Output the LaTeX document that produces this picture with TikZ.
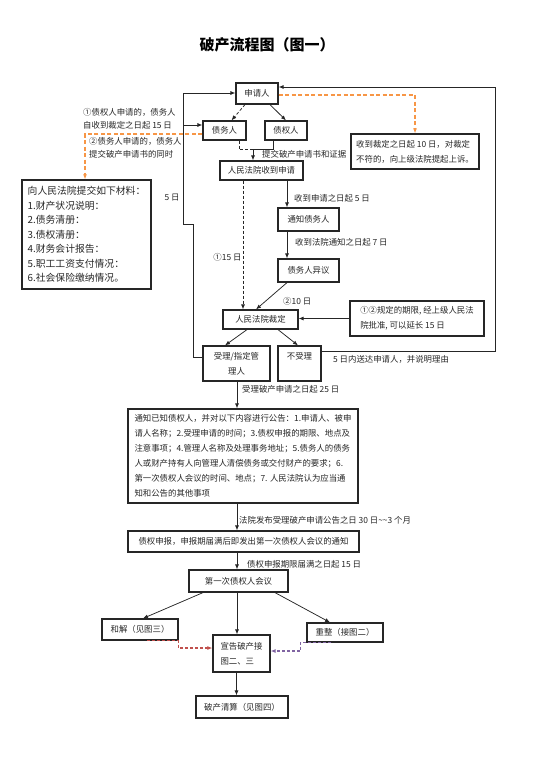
\documentclass[tikz,border=0pt]{standalone}
\usepackage{fontspec}
\setmainfont{Noto Sans CJK SC}
\usetikzlibrary{arrows.meta,calc}
\definecolor{oran}{RGB}{247,150,70}
\definecolor{redd}{RGB}{192,80,77}
\definecolor{purp}{RGB}{128,100,162}
\definecolor{ink}{RGB}{38,38,38}
\begin{document}
\begin{tikzpicture}[x=1pt,y=-1pt,
  box/.style={draw=ink,line width=1.2pt,inner sep=0pt,font=\fontsize{8.4}{15}\selectfont,text=ink},
  lbl/.style={font=\fontsize{8.4}{15}\selectfont,text=ink,inner sep=0pt},
  tip/.style={-{Latex[length=5pt,width=4pt]}},
  arr/.style={draw=ink,line width=0.75pt,tip},
  ln/.style={draw=ink,line width=0.75pt},
  dsh/.style={dash pattern=on 3pt off 2pt},
  odsh/.style={draw=oran,line width=1.3pt,dash pattern=on 4pt off 2.5pt,tip}]
\useasboundingbox (0,0) rectangle (544,768);

% title
\node[font=\fontsize{15}{18}\selectfont\bfseries,text=black] (title) at (267,45) {破产流程图（图一）};

% boxes
\node[box,minimum width=42pt,minimum height=21pt] (sq) at (257,93.5) {申请人};
\node[box,minimum width=43pt,minimum height=19pt] (zwr) at (224.5,130.5) {债务人};
\node[box,minimum width=42pt,minimum height=19pt] (zqr) at (286,130.5) {债权人};
\node[box,minimum width=83pt,minimum height=19pt] (sd) at (261.5,170.5) {人民法院收到申请};
\node[box,minimum width=61pt,minimum height=23pt] (tz) at (308.5,219.5) {通知债务人};
\node[box,minimum width=61pt,minimum height=23pt] (yy) at (308.5,270.5) {债务人异议};
\node[box,minimum width=75pt,minimum height=19pt] (cd) at (260.5,319.5) {人民法院裁定};
\node[box,align=left,minimum width=134pt,minimum height=35pt] (yq) at (417,318.5) {①②规定的期限, 经上级人民法\\院批准, 可以延长 15 日};
\node[box,align=center,minimum width=67pt,minimum height=35pt] (sl) at (236.5,363.5) {受理/指定管\\理人};
\node[box,align=center,minimum width=43pt,minimum height=35pt] (bsl) at (299.5,363.5) {不受理\\\phantom{理}};
\node[box,align=left,minimum width=128pt,minimum height=35pt] (ss) at (415,151.5) {收到裁定之日起 10 日，对裁定\\不符的，向上级法院提起上诉。};
\node[box,font=\fontsize{9.8}{14.5}\selectfont,align=left,minimum width=129pt,minimum height=109pt] (cl) at (86.5,234.5)
  {向人民法院提交如下材料：\\1.财产状况说明：\\2.债务清册：\\3.债权清册：\\4.财务会计报告：\\5.职工工资支付情况：\\6.社会保险缴纳情况。};
\node[box,align=left,minimum width=230pt,minimum height=94pt] (gg) at (243,456)
  {通知已知债权人，并对以下内容进行公告：1.申请人、被申\\
   请人名称；2.受理申请的时间；3.债权申报的期限、地点及\\
   注意事项；4.管理人名称及处理事务地址；5.债务人的债务\\
   人或财产持有人向管理人清偿债务或交付财产的要求；6.\\
   第一次债权人会议的时间、地点；7. 人民法院认为应当通\\
   知和公告的其他事项};
\node[box,minimum width=231pt,minimum height=21pt] (sb) at (243.5,541.5) {债权申报，申报期届满后即发出第一次债权人会议的通知};
\node[box,minimum width=99pt,minimum height=22pt] (dyc) at (238.5,581) {第一次债权人会议};
\node[box,minimum width=76pt,minimum height=21pt] (hj) at (140,629.5) {和解（见图三）};
\node[box,align=left,minimum width=57pt,minimum height=37pt] (xg) at (241.5,653.5) {宣告破产接\\图二、三};
\node[box,minimum width=76pt,minimum height=19pt] (cz) at (345,632.5) {重整（接图二）};
\node[box,minimum width=92pt,minimum height=22pt] (qs) at (242,707) {破产清算（见图四）};

% labels
\node[lbl,anchor=west] (t1) at (83,112) {①债权人申请的，债务人};
\node[lbl,anchor=west] (t2) at (83,125) {自收到裁定之日起 15 日};
\node[lbl,anchor=west] (t3) at (89,141) {②债务人申请的，债务人};
\node[lbl,anchor=west] (t4) at (89,154) {提交破产申请书的同时};
\node[lbl,anchor=west] (t5) at (262,154) {提交破产申请书和证据};
\node[lbl] (t6) at (172,198) {5 日};
\node[lbl,anchor=west] (t7) at (294,198) {收到申请之日起 5 日};
\node[lbl,anchor=west] (t8) at (295,242) {收到法院通知之日起 7 日};
\node[lbl] (t9) at (227.5,257) {①15 日};
\node[lbl,anchor=west] (t10) at (283,301) {②10 日};
\node[lbl,anchor=west] (t11) at (333,359) {5 日内送达申请人，并说明理由};
\node[lbl,anchor=west] (t12) at (242,389) {受理破产申请之日起 25 日};
\node[lbl,anchor=west] (t13) at (239,520) {法院发布受理破产申请公告之日 30 日\textasciitilde\textasciitilde 3 个月};
\node[lbl,anchor=west] (t14) at (247,564) {债权申报期限届满之日起 15 日};

% connectors top
\draw[arr,dsh] ([xshift=-12pt]sq.south) -- ([xshift=7pt]zwr.north);
\draw[arr] ([xshift=13pt]sq.south) -- (zqr.north);
\draw[arr] ([xshift=-13pt]zqr.south) -- ++(0,9) -| ([xshift=-8.5pt]sd.north);
\draw[ln,dsh] ([xshift=14.5pt]zwr.south) -- ++(0,9) -- ++(14,0);
\draw[odsh] ([yshift=-1.5pt]sq.east) -| (ss.north);
\draw[odsh] ([yshift=-3.5pt]zwr.west) -| ([xshift=-1.5pt]cl.north);

% left loop
\coordinate (la) at (193,224);
\coordinate (lb) at (183,224);
\coordinate (lc) at (183,125);
\draw[arr] ([yshift=6.5pt]sl.west) -| (la) -- (lb) |- ([yshift=0.5pt]sq.west);
\draw[arr] (lc) -- (lc -| zwr.west);

% right loop
\coordinate (ra) at (495,351);
\draw[arr] (bsl.east |- ra) -- (ra) |- ([yshift=6.5pt]sq.east);

% middle
\draw[arr,dsh] ([xshift=-18.5pt]sd.south) -- ([xshift=-18.5pt]sd.south |- cd.north);
\draw[arr] ([xshift=25.5pt]sd.south) -- ([xshift=25.5pt]sd.south |- tz.north);
\draw[arr] ([xshift=-21.5pt]tz.south) -- ([xshift=-21.5pt]tz.south |- yy.north);
\draw[arr] ([xshift=-21.5pt]yy.south) -- ([xshift=-4.5pt]cd.north);
\draw[arr] (yq.west) -- (yq.west -| cd.east);
\draw[arr] ([xshift=-13.5pt]cd.south) -- ([xshift=-11.5pt]sl.north);
\draw[arr] ([xshift=17.5pt]cd.south) -- ([xshift=-1.5pt]bsl.north);

% lower chain
\draw[arr] ([xshift=0.5pt]sl.south) -- ([xshift=0.5pt]sl.south |- gg.north);
\draw[arr] ([xshift=-6pt]gg.south) -- ([xshift=-6pt]gg.south |- sb.north);
\draw[arr] ([xshift=-6.5pt]sb.south) -- ([xshift=-6.5pt]sb.south |- dyc.north);
\draw[arr] ([xshift=-35.5pt]dyc.south) -- ([xshift=3pt]hj.north);
\draw[arr] ([xshift=-1.5pt]dyc.south) -- ([xshift=-1.5pt]dyc.south |- xg.north);
\draw[arr] ([xshift=36.5pt]dyc.south) -- ([xshift=-15pt]cz.north);
\draw[arr] ([xshift=-5pt]xg.south) -- ([xshift=-5pt]xg.south |- qs.north);
\draw[draw=redd,line width=1.1pt,dash pattern=on 3pt off 2pt,tip] ([xshift=46pt]hj.south west) -- ++(31,0) |- ([yshift=5.5pt]xg.west);
\draw[draw=purp,line width=1.1pt,dash pattern=on 3pt off 2pt,tip] ([xshift=25pt]cz.south west) -- ++(-31,0) |- ([yshift=2.5pt]xg.east);
\end{tikzpicture}
\end{document}
